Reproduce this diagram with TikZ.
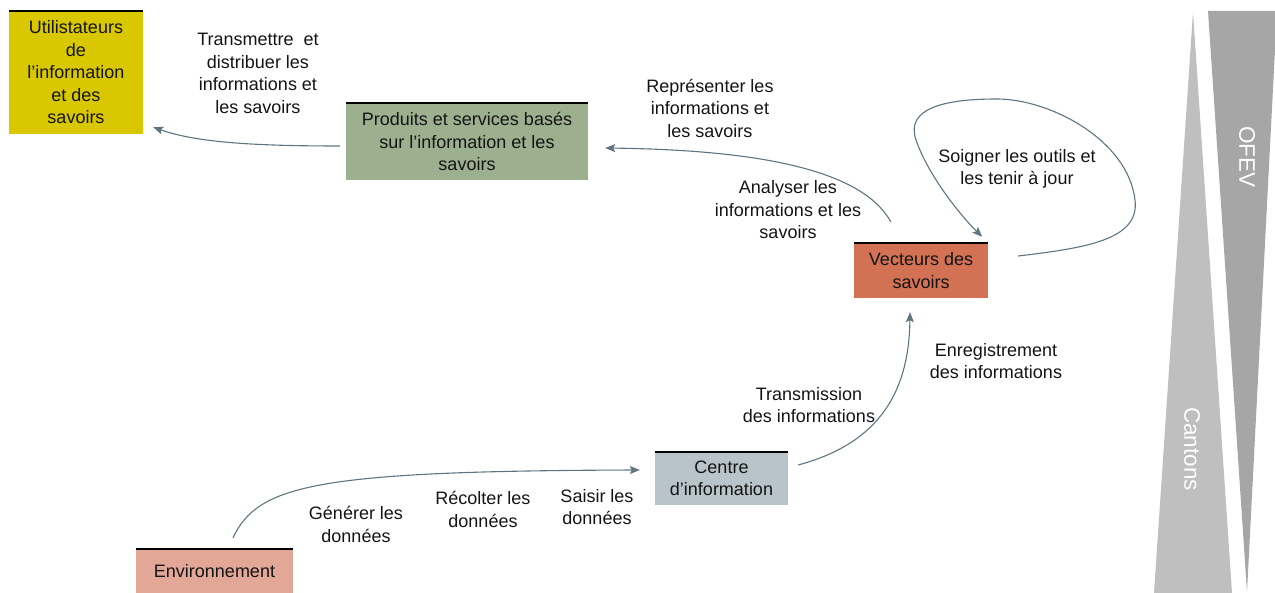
\documentclass[tikz,border=0pt]{standalone}
\usepackage{fontspec}
\setmainfont{Liberation Sans}
\usetikzlibrary{arrows.meta}

\definecolor{userfill}{RGB}{217,200,0}
\definecolor{prodfill}{RGB}{156,176,143}
\definecolor{vectfill}{RGB}{210,113,83}
\definecolor{centfill}{RGB}{184,196,202}
\definecolor{envfill}{RGB}{227,167,151}
\definecolor{flowcol}{RGB}{96,116,128}
\definecolor{cantgray}{RGB}{191,191,191}
\definecolor{ofevgray}{RGB}{166,166,166}
\definecolor{txt}{RGB}{20,20,20}

\tikzset{
  every node/.style={font=\fontsize{18}{22.5}\selectfont, align=center, text=txt, inner sep=0pt},
  box/.style={rectangle, draw=none, minimum width=#1},
  topline/.style={draw=black, line width=1.6pt},
  flow/.style={draw=flowcol, line width=1.1pt,
    -{Stealth[length=10pt,width=8pt,inset=2pt]}},
  bandtext/.style={text=white, rotate=-90, font=\fontsize{22.5}{27}\selectfont}
}

\begin{document}
\begin{tikzpicture}[x=1pt,y=-1pt]
  \useasboundingbox (0,0) rectangle (1275,593);

  % side bands: cantonal and federal levels
  \fill[cantgray] (1193,12) -- (1232,593) -- (1154,593) -- cycle;
  \fill[ofevgray] (1208,11) -- (1277,11) -- (1247,592) -- cycle;
  \node[bandtext] (cantons) at (1192,449) {Cantons};
  \node[bandtext] (ofev) at (1247,157) {OFEV};

  % boxes
  \node[box=134pt, minimum height=123pt, fill=userfill] (u) at (76,72.5)
    {Utilistateurs\\de\\l’information\\et des\\savoirs};
  \node[box=242pt, minimum height=77pt, fill=prodfill] (p) at (467,141.5)
    {Produits et services basés\\sur l’information et les\\savoirs};
  \node[box=134pt, minimum height=55pt, fill=vectfill] (v) at (921,270.5)
    {Vecteurs des\\savoirs};
  \node[box=133pt, minimum height=53pt, fill=centfill] (c) at (721.5,478.5)
    {Centre\\d’information};
  \node[box=157pt, minimum height=44pt, fill=envfill] (e) at (214.5,571)
    {Environnement};

  \foreach \n in {u,p,v,c,e}
    \draw[topline] (\n.north west) -- (\n.north east);

  % connectors
  \draw[flow] ([xshift=-6pt,yshift=-4.5pt]p.west)
    .. controls (250,146) and (195,142) .. ([xshift=10pt,yshift=7pt]u.south east);
  \draw[flow] ([xshift=37pt,yshift=21pt]v.north west)
    .. controls (862,170) and (760,150) .. ([xshift=17pt,yshift=-6.5pt]p.east);
  \draw[flow] ([xshift=30pt,yshift=14.5pt]v.east)
    .. controls (1085,248) and (1140,240) .. (1135,200)
    .. controls (1128,140) and (1050,99) .. (997,99)
    .. controls (945,99) and (905,108) .. (916,140)
    .. controls (928,175) and (960,215) .. ([xshift=-6pt,yshift=6pt]v.north east);
  \draw[flow] ([xshift=18.5pt,yshift=11pt]e.north)
    .. controls (258,485) and (315,471) .. ([xshift=-15pt,yshift=8.5pt]c.west);
  \draw[flow] ([xshift=10pt,yshift=13.5pt]c.east)
    .. controls (872,445) and (909,400) .. ([xshift=-11pt,yshift=-14pt]v.south);

  % activity labels
  \node (l1) at (258,73.5) {Transmettre\ \ et\\distribuer les\\informations et\\les savoirs};
  \node (l2) at (710,108) {Représenter les\\informations et\\les savoirs};
  \node (l3) at (788,210) {Analyser les\\informations et les\\savoirs};
  \node (l4) at (1017,169) {Soigner les outils et\\les tenir à jour};
  \node (l5) at (996,361) {Enregistrement\\des informations};
  \node (l6) at (809,405) {Transmission\\des informations};
  \node (l7) at (356,524.5) {Générer les\\données};
  \node (l8) at (483,509.5) {Récolter les\\données};
  \node (l9) at (597,507) {Saisir les\\données};
\end{tikzpicture}
\end{document}
